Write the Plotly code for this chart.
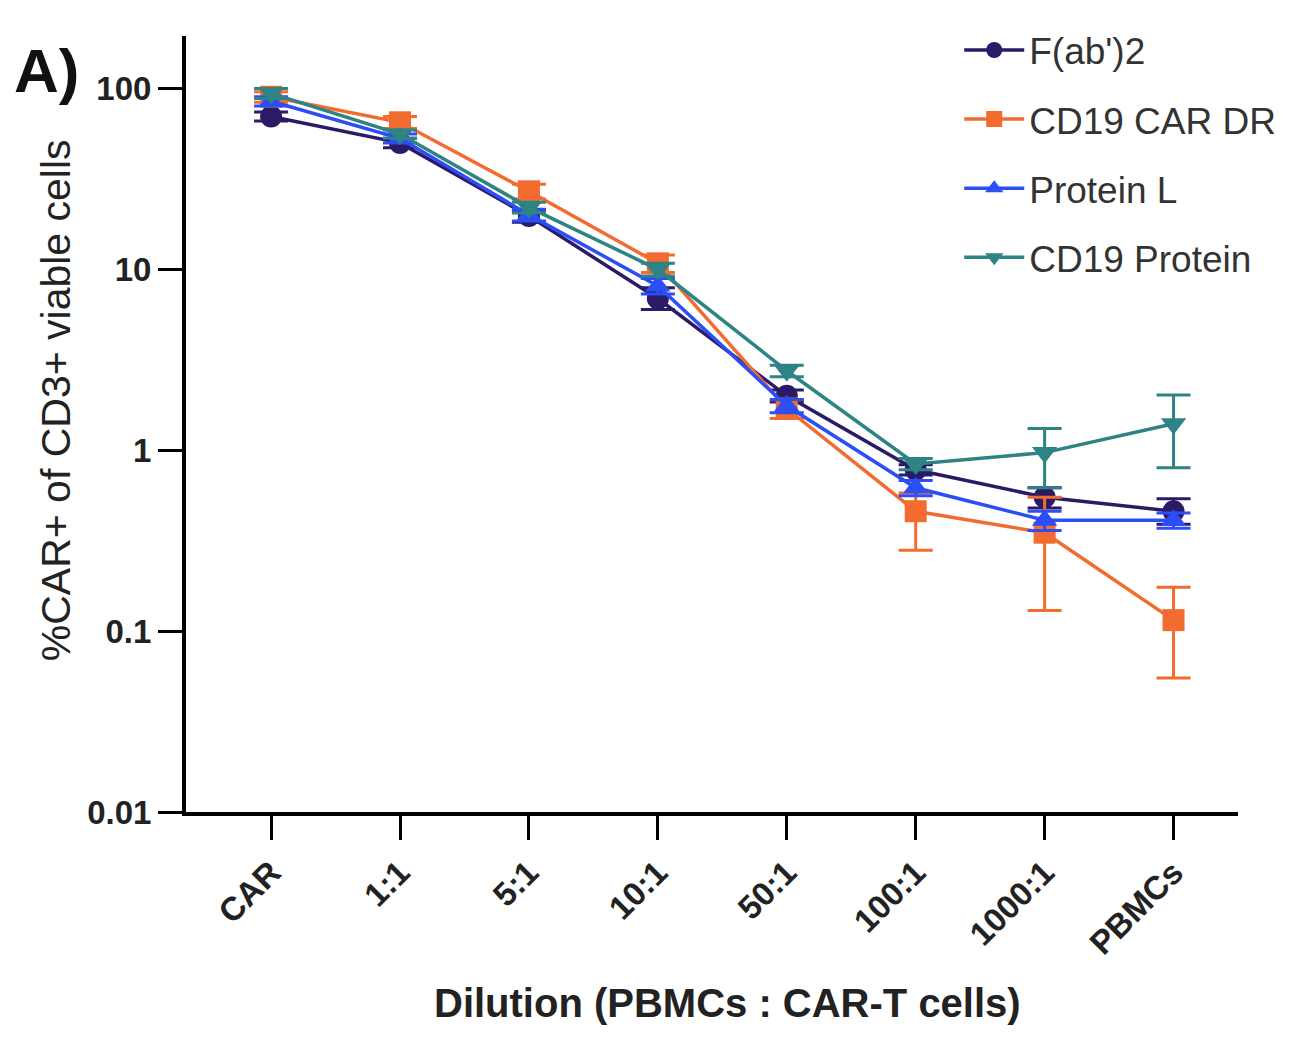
import plotly.graph_objects as go

# dilution categories on the x axis
dilutions = ["CAR", "1:1", "5:1", "10:1", "50:1", "100:1", "1000:1", "PBMCs"]

# %CAR+ of CD3+ viable cells
fab2 = [70, 50, 19.7, 6.9, 2.0, 0.78, 0.55, 0.46]
fab2_err_up = [4, 3, 1.5, 1.0, 0.15, 0.05, 0.07, 0.08]
fab2_err_dn = [4, 3, 1.5, 0.9, 0.15, 0.05, 0.07, 0.07]

car_dr = [90, 65, 27, 10.8, 1.7, 0.46, 0.35, 0.115]
car_dr_err_up = [6, 5, 2.5, 1.2, 0.2, 0.12, 0.2, 0.06]
car_dr_err_dn = [6, 5, 2.5, 1.2, 0.2, 0.18, 0.22, 0.06]

protein_l = [85, 53, 20, 8.1, 1.76, 0.62, 0.41, 0.41]
protein_l_err_up = [5, 3, 1.5, 0.8, 0.15, 0.06, 0.05, 0.04]
protein_l_err_dn = [5, 3, 1.5, 0.8, 0.15, 0.06, 0.05, 0.04]

cd19_protein = [94, 56, 22, 10, 2.75, 0.84, 0.97, 1.40]
cd19_protein_err_up = [6, 3, 1.5, 0.8, 0.2, 0.06, 0.35, 0.62]
cd19_protein_err_dn = [6, 3, 1.5, 0.8, 0.2, 0.06, 0.35, 0.60]

SERIES = [
    ("F(ab')2", fab2, fab2_err_up, fab2_err_dn, "#2b1a66", "circle"),
    ("CD19 CAR DR", car_dr, car_dr_err_up, car_dr_err_dn, "#f26b2f", "square"),
    ("Protein L", protein_l, protein_l_err_up, protein_l_err_dn, "#2b4ef5", "triangle-up"),
    ("CD19 Protein", cd19_protein, cd19_protein_err_up, cd19_protein_err_dn, "#2e8385", "triangle-down"),
]

FONT = "Liberation Sans, Arial, sans-serif"

fig = go.Figure()
for i, (name, vals, up, dn, color, symbol) in enumerate(SERIES):
    fig.add_trace(
        go.Scatter(
            x=dilutions,
            y=vals,
            name=name,
            legendgroup=str(i),
            mode="lines+markers",
            line=dict(color=color, width=3.5),
            marker=dict(symbol=symbol, size=22, color=color),
            error_y=dict(
                type="data",
                array=up,
                arrayminus=dn,
                color=color,
                thickness=3,
                width=17,
            ),
        )
    )

fig.update_layout(
    width=1312,
    height=1040,
    margin=dict(l=178, r=82, t=27, b=236),
    paper_bgcolor="white",
    plot_bgcolor="white",
    font=dict(family=FONT, color="#222"),
    showlegend=True,
    legend=dict(
        x=0.735,
        y=1.02,
        xanchor="left",
        yanchor="top",
        font=dict(size=37, color="#333"),
        itemwidth=60,
        tracegroupgap=18,
        traceorder="grouped",
        bgcolor="rgba(0,0,0,0)",
    ),
    xaxis=dict(
        type="category",
        range=[-0.66, 7.5],
        showline=True,
        linecolor="black",
        linewidth=4,
        ticks="outside",
        ticklen=24,
        tickwidth=3,
        tickcolor="black",
        tickangle=-45,
        tickfont=dict(size=33, color="#222", family=FONT, weight="bold"),
        showgrid=False,
        zeroline=False,
    ),
    yaxis=dict(
        type="log",
        range=[-2, 2.29],
        tickvals=[0.01, 0.1, 1, 10, 100],
        ticktext=["0.01", "0.1", "1", "10", "100"],
        showline=True,
        linecolor="black",
        linewidth=4,
        ticks="outside",
        ticklen=24,
        tickwidth=3,
        tickcolor="black",
        tickfont=dict(size=33, color="#222", family=FONT, weight="bold"),
        showgrid=False,
        zeroline=False,
    ),
    annotations=[
        dict(
            text="%CAR+ of CD3+ viable cells",
            xref="paper", yref="paper",
            x=-0.124, y=0.53,
            xanchor="center", yanchor="middle",
            textangle=-90,
            showarrow=False,
            font=dict(size=41, color="#222"),
        ),
        dict(
            text="<b>Dilution (PBMCs : CAR-T cells)</b>",
            xref="paper", yref="paper",
            x=0.515, y=-0.246,
            xanchor="center", yanchor="middle",
            showarrow=False,
            font=dict(size=40, color="#222"),
        ),
        dict(
            text="<b>A)</b>",
            xref="paper", yref="paper",
            x=-0.1, y=0.955,
            xanchor="right", yanchor="middle",
            showarrow=False,
            font=dict(size=62, color="#111"),
        ),
    ],
)

fig.write_html("out.html")
